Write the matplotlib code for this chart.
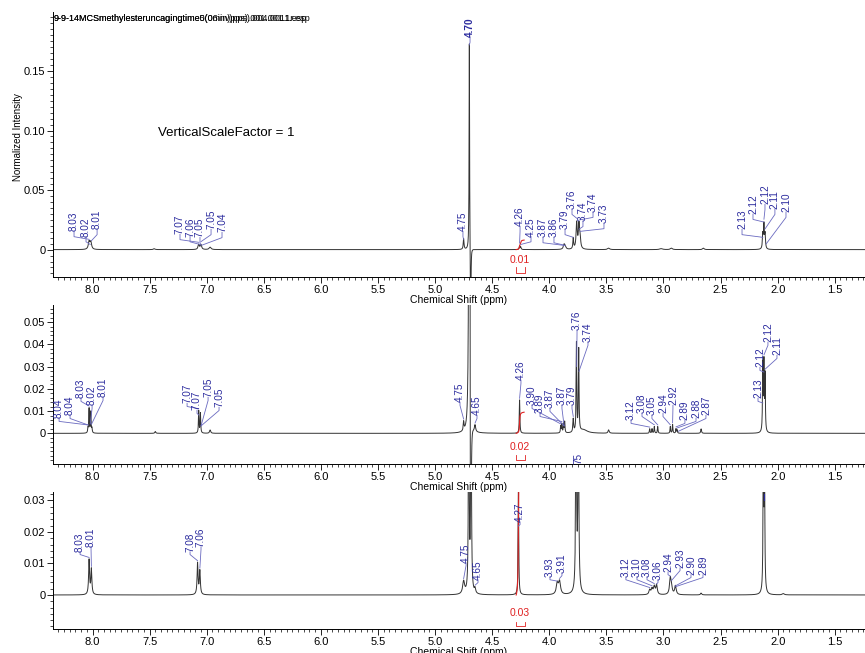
import numpy as np
import matplotlib
matplotlib.use("Agg")
import matplotlib.pyplot as plt
from matplotlib.ticker import MultipleLocator, FixedLocator, FuncFormatter

plt.rcParams['font.family'] = ['Liberation Sans', 'DejaVu Sans']

# peak lists: centre (ppm), height, half width (ppm)
top_ppm = [8.03, 8.015, 7.46, 7.07, 7.05, 6.97, 4.75, 4.700, 4.688, 4.26, 4.25,
           3.87, 3.86, 3.79, 3.76, 3.74, 3.73, 3.48, 3.02, 2.93, 2.65, 2.13, 2.12, 2.11]
top_height = [0.0065, 0.0060, 0.0008, 0.0042, 0.0040, 0.0020, 0.0090, 0.176, -0.08, 0.0030, 0.0020,
              0.0040, 0.0020, 0.0090, 0.0220, 0.0200, 0.0080, 0.0012, 0.0008, 0.0012, 0.0012, 0.012, 0.020, 0.012]
top_width = [0.008, 0.008, 0.008, 0.007, 0.007, 0.010, 0.004, 0.0025, 0.0025, 0.004, 0.004,
             0.008, 0.008, 0.004, 0.006, 0.006, 0.006, 0.010, 0.015, 0.010, 0.008, 0.004, 0.004, 0.004]

mid_ppm = [8.04, 8.03, 8.015, 8.005, 7.45, 7.07, 7.055, 6.97, 4.75, 4.65, 4.700, 4.688, 4.26,
           3.90, 3.89, 3.875, 3.865, 3.79, 3.762, 3.742, 3.70, 3.48, 3.12, 3.10, 3.08, 3.05,
           2.94, 2.92, 2.89, 2.88, 2.67, 2.13, 2.12, 2.11]
mid_height = [0.002, 0.011, 0.0095, 0.002, 0.0008, 0.010, 0.009, 0.0015, 0.004, 0.003, 0.6, -0.2, 0.015,
              0.003, 0.004, 0.004, 0.005, 0.006, 0.040, 0.037, 0.0015, 0.0015, 0.002, 0.002, 0.003, 0.003,
              0.003, 0.004, 0.002, 0.0015, 0.002, 0.030, 0.030, 0.025]
mid_width = [0.003, 0.003, 0.003, 0.003, 0.005, 0.003, 0.003, 0.006, 0.004, 0.006, 0.003, 0.003, 0.003,
             0.003, 0.003, 0.003, 0.003, 0.004, 0.003, 0.003, 0.040, 0.006, 0.003, 0.003, 0.003, 0.003,
             0.003, 0.003, 0.003, 0.003, 0.004, 0.003, 0.003, 0.003]

bot_ppm = [8.03, 8.01, 7.08, 7.06, 4.75, 4.705, 4.685, 4.65, 4.27, 3.93, 3.91, 3.765, 3.745,
           3.12, 3.10, 3.08, 3.06, 2.94, 2.93, 2.895, 2.67, 2.125, 2.115, 1.95]
bot_height = [0.011, 0.008, 0.010, 0.0075, 0.004, 0.08, 0.08, 0.0015, 0.036, 0.0035, 0.004, 0.06, 0.06,
              0.0015, 0.0018, 0.0025, 0.003, 0.005, 0.002, 0.0028, 0.0006, 0.045, 0.04, 0.0004]
bot_width = [0.005, 0.005, 0.005, 0.005, 0.010, 0.0035, 0.0035, 0.006, 0.003, 0.010, 0.010, 0.0045, 0.0045,
             0.008, 0.008, 0.008, 0.007, 0.008, 0.008, 0.008, 0.006, 0.0035, 0.0035, 0.010]

# peak pick labels: text, label position (ppm), label bottom (intensity)
top_labels = ["8.03", "8.02", "8.01", "7.07", "7.06", "7.05", "7.05", "7.04", "4.75", "4.70",
              "4.26", "4.25", "3.87", "3.86", "3.79", "3.76", "3.74", "3.74", "3.73",
              "2.13", "2.12", "2.12", "2.11", "2.10"]
top_label_x = [8.162, 8.057, 7.960, 7.234, 7.146, 7.059, 6.962, 6.866, 4.756, 4.694,
               4.256, 4.160, 4.055, 3.959, 3.862, 3.801, 3.705, 3.617, 3.521,
               2.312, 2.216, 2.111, 2.024, 1.927]
top_label_y = [0.0153, 0.011, 0.017, 0.0128, 0.011, 0.0102, 0.017, 0.0145, 0.0153, 0.1785,
               0.0196, 0.011, 0.0102, 0.0102, 0.017, 0.034, 0.0238, 0.0315, 0.022,
               0.017, 0.0298, 0.038, 0.034, 0.0315]

mid_labels = ["8.04", "8.04", "8.03", "8.02", "8.01", "7.07", "7.07", "7.05", "7.05", "4.75", "4.65",
              "4.26", "3.90", "3.89", "3.87", "3.87", "3.79", "3.76", "3.74", "3.12", "3.08", "3.05",
              "2.94", "2.92", "2.89", "2.88", "2.87", "2.13", "2.12", "2.12", "2.11"]
mid_label_x = [8.293, 8.197, 8.101, 8.004, 7.908, 7.172, 7.085, 6.988, 6.892, 4.782, 4.633,
               4.248, 4.151, 4.081, 3.994, 3.889, 3.801, 3.757, 3.661, 3.284, 3.188, 3.101,
               3.004, 2.917, 2.812, 2.715, 2.628, 2.172, 2.155, 2.085, 2.006]
mid_label_y = [0.0068, 0.0081, 0.0158, 0.0126, 0.0162, 0.0135, 0.0104, 0.0162, 0.0117, 0.014, 0.0081,
               0.0239, 0.0126, 0.009, 0.0113, 0.0126, 0.0126, 0.0464, 0.041, 0.0059, 0.009, 0.0081,
               0.009, 0.0126, 0.0059, 0.0068, 0.0081, 0.0158, 0.0297, 0.041, 0.0351]

bot_labels = ["8.03", "8.01", "7.08", "7.06", "4.75", "4.65", "4.27", "3.93", "3.91",
              "3.12", "3.10", "3.08", "3.06", "2.94", "2.93", "2.90", "2.89"]
bot_label_x = [8.109, 8.013, 7.146, 7.050, 4.729, 4.624, 4.256, 3.994, 3.889,
               3.329, 3.232, 3.144, 3.048, 2.960, 2.855, 2.759, 2.654]
bot_label_y = [0.0137, 0.0153, 0.0137, 0.0153, 0.0102, 0.0048, 0.0232, 0.0057, 0.007,
               0.0057, 0.0057, 0.0057, 0.0048, 0.0073, 0.0086, 0.0064, 0.0064]

# labelled y ticks per panel
top_yticks = [0, 0.05, 0.10, 0.15]
mid_yticks = [0, 0.01, 0.02, 0.03, 0.04, 0.05]
bot_yticks = [0, 0.01, 0.02, 0.03]

# integration region and values
integ_from, integ_to = 4.29, 4.22
integ_values = ["0.01", "0.02", "0.03"]

blue = '#2b2b9e'
lead = '#6a6ac0'
red = '#e02020'

x = np.arange(1.2, 8.4, 0.0005)


def spectrum(ppm, height, width):
    y = np.zeros_like(x)
    for c, a, w in zip(ppm, height, width):
        y += a * w ** 2 / ((x - c) ** 2 + w ** 2)
    return y


fig = plt.figure(figsize=(8.65, 6.53), dpi=100)
panels = [
    dict(pos=[0.0613, 0.5758, 0.9387, 0.4058], ylim=(-0.023, 0.1995), yticks=top_yticks, minor=0.005,
         peaks=(top_ppm, top_height, top_width), labels=(top_labels, top_label_x, top_label_y),
         integ_h=0.008, integ_text=-0.0085, bracket=(-0.0145, -0.0196)),
    dict(pos=[0.0613, 0.2894, 0.9387, 0.2435], ylim=(-0.0138, 0.0577), yticks=mid_yticks, minor=0.002,
         peaks=(mid_ppm, mid_height, mid_width), labels=(mid_labels, mid_label_x, mid_label_y),
         integ_h=0.0095, integ_text=-0.0063, bracket=(-0.0099, -0.0122)),
    dict(pos=[0.0613, 0.0368, 0.9387, 0.2098], ylim=(-0.0108, 0.0327), yticks=bot_yticks, minor=0.002,
         peaks=(bot_ppm, bot_height, bot_width), labels=(bot_labels, bot_label_x, bot_label_y),
         integ_h=0.045, integ_text=-0.0057, bracket=(-0.0086, -0.0099)),
]

axes = []
for i, p in enumerate(panels):
    ax = fig.add_axes(p['pos'])
    axes.append(ax)
    y = spectrum(*p['peaks'])
    ax.plot(x, y, color='#333333', lw=0.7)
    ax.set_xlim(8.346, 1.235)
    ax.set_ylim(*p['ylim'])
    yr = p['ylim'][1] - p['ylim'][0]

    # integral curve and value
    m = (x >= integ_to) & (x <= integ_from)
    xs = x[m][::-1]
    cum = np.cumsum(y[m][::-1])
    cum = (cum - cum[0]) / (cum[-1] - cum[0]) * p['integ_h']
    ax.plot(xs, cum, color=red, lw=0.8)
    ax.text(4.255, p['integ_text'], integ_values[i], color=red, fontsize=7.5,
            ha='center', va='center')
    b0, b1 = p['bracket']
    ax.plot([4.29, 4.29, 4.21, 4.21], [b0, b1, b1, b0], color=red, lw=0.6)

    # peak labels with leader lines
    for txt, lx, ly in zip(*p['labels']):
        px = float(txt)
        pk = min(np.interp(px, x, y), p['ylim'][1])
        weight = 'bold' if txt == "4.70" else 'normal'
        ax.text(lx, ly, txt, rotation=90, ha='center', va='bottom', color=blue,
                fontsize=7.2, fontweight=weight, clip_on=False)
        target = min(pk + 0.01 * yr, ly - 0.03 * yr)
        ax.plot([lx, lx, px], [ly, ly - 0.02 * yr, target], color=lead, lw=0.6, clip_on=False)

    ax.spines['top'].set_visible(False)
    ax.spines['right'].set_visible(False)
    ax.spines['left'].set_linewidth(0.7)
    ax.spines['bottom'].set_linewidth(0.7)
    ax.xaxis.set_major_locator(MultipleLocator(0.5))
    ax.xaxis.set_minor_locator(MultipleLocator(0.05))
    ax.xaxis.set_major_formatter(FuncFormatter(lambda v, _: f'{v:.1f}'))
    ax.yaxis.set_major_locator(FixedLocator(p['yticks']))
    ax.yaxis.set_minor_locator(MultipleLocator(p['minor']))
    ax.yaxis.set_major_formatter(FuncFormatter(lambda v, _: '0' if abs(v) < 1e-9 else f'{v:.2f}'))
    ax.tick_params(which='major', length=4, width=0.6, labelsize=8, pad=1.5)
    ax.tick_params(which='minor', length=2, width=0.5)
    ax.set_xlabel('Chemical Shift (ppm)', fontsize=7.5, labelpad=0)

# extra marks
axes[1].text(3.74, -0.0086, "75", rotation=90, ha='center', va='top', color=blue, fontsize=7.2)
axes[2].plot([2.12, 2.12], [0.0300, 0.0322], color=blue, lw=0.8, clip_on=False)

axes[0].text(0.001, 0.977, "9-9-14MCSmethylesteruncagingtime5(06inv)pps).004.0011.esp",
             transform=axes[0].transAxes, fontsize=6.5, va='center', ha='left')
axes[0].text(0.001, 0.977, "9-9-14MCSmethylesteruncagingtime0(0min)pps).001.001.1r.esp",
             transform=axes[0].transAxes, fontsize=6.5, va='center', ha='left')
axes[0].text(0.129, 0.543, "VerticalScaleFactor = 1", transform=axes[0].transAxes,
             fontsize=9.5, va='center', ha='left')
fig.text(0.021, 0.79, "Normalized Intensity", rotation=90, fontsize=7, ha='center', va='center')

plt.savefig('out.png', dpi=100)
